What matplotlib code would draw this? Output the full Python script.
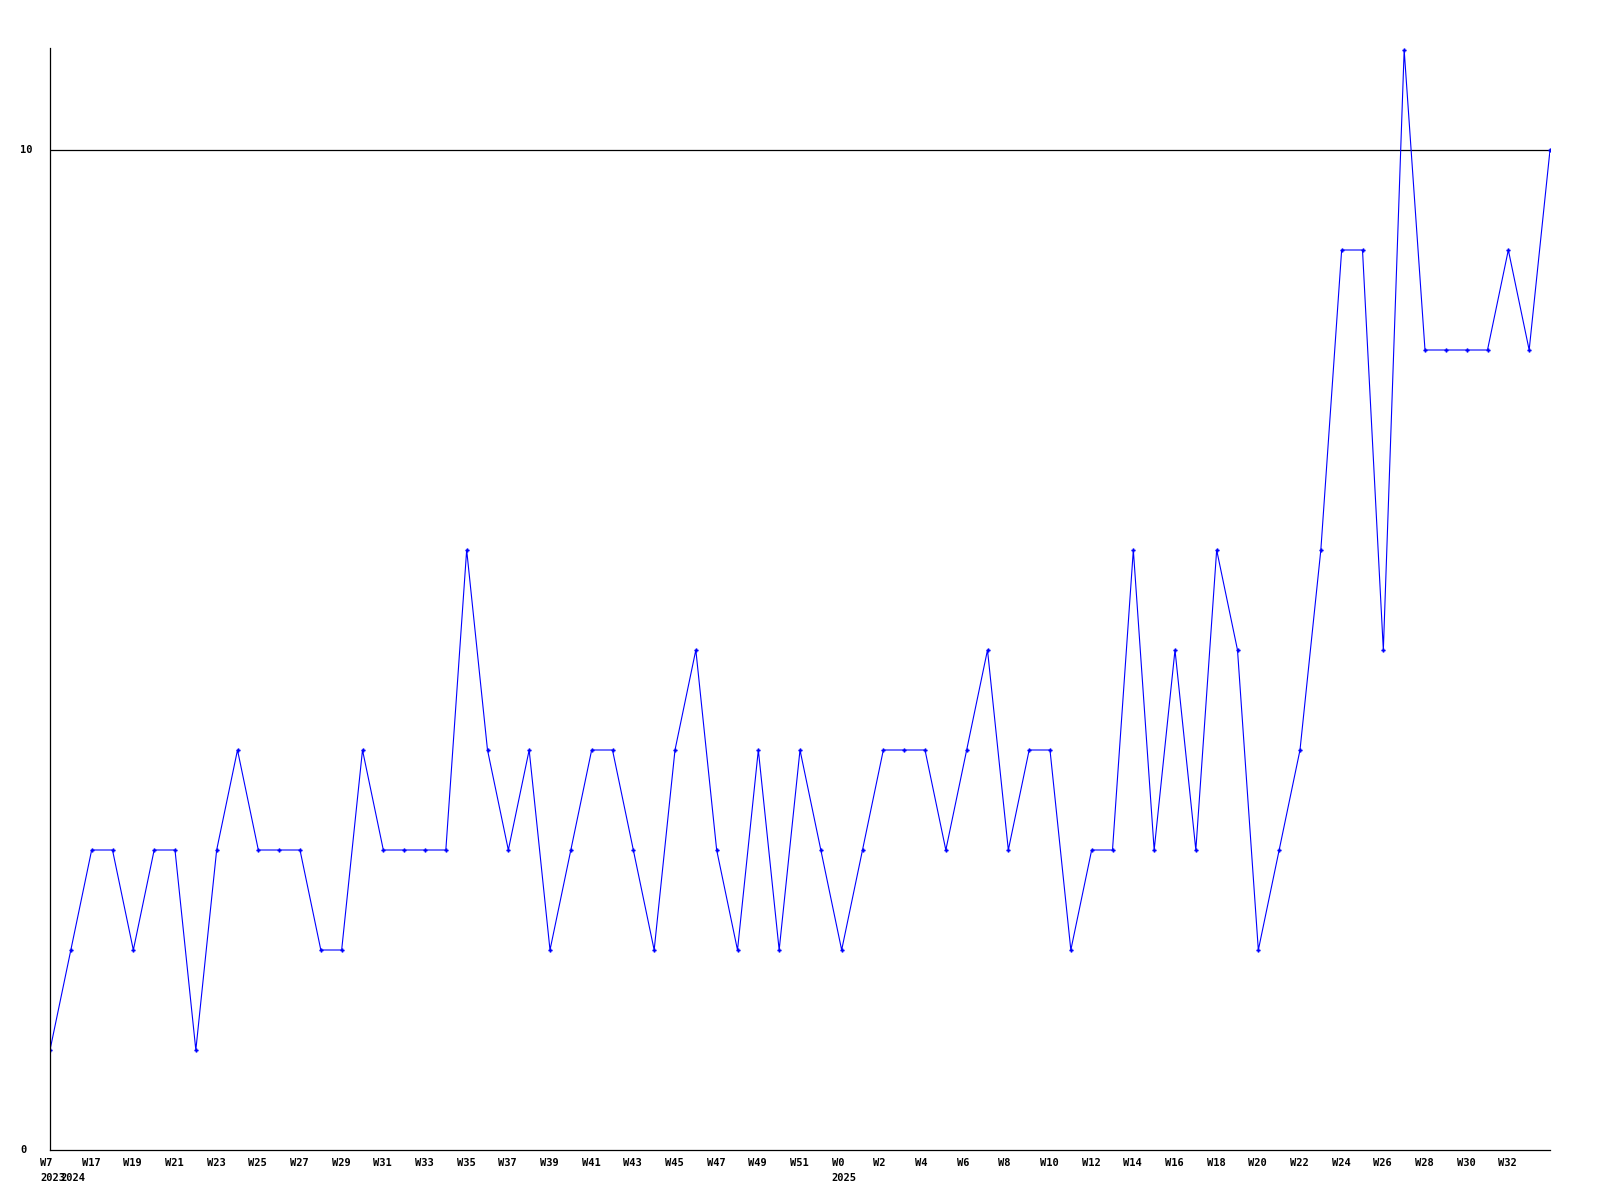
import matplotlib
matplotlib.use("Agg")
import matplotlib.pyplot as plt
import matplotlib.transforms as mtransforms

# weekly counts, one per week shown on the x axis
weeks = (["W7"] + ["W%d" % w for w in range(16, 53)] + ["W%d" % w for w in range(0, 35)])
values = [1, 2, 3, 3, 2, 3, 3, 1, 3, 4, 3, 3, 3, 2, 2, 4, 3, 3, 3, 3,
          6, 4, 3, 4, 2, 3, 4, 4, 3, 2, 4, 5, 3, 2, 4, 2, 4, 3, 2, 3,
          4, 4, 4, 3, 4, 5, 3, 4, 4, 2, 3, 3, 6, 3, 5, 3, 6, 5, 2, 3,
          4, 6, 9, 9, 5, 11, 8, 8, 8, 8, 9, 8, 10]
# year labels: (index of point, year)
year_marks = [(0, "2023"), (1, "2024"), (38, "2025")]
y_ticks = [0, 10]

W, H = 1600, 1200
fig = plt.figure(figsize=(16, 12), dpi=100)
ax = fig.add_axes([50 / W, 50 / H, 1500 / W, 1102 / H])

x = list(range(len(values)))
ax.plot(x, values, color="#0000ff", lw=0.8, marker="P", markersize=2.6,
        markerfacecolor="#0000ff", markeredgecolor="#0000ff", markeredgewidth=0.3)
ax.axhline(10, color="black", lw=0.9, zorder=1)

ax.set_xlim(0, len(values) - 1)
ax.set_ylim(0, 11.02)

for s in ["top", "right"]:
    ax.spines[s].set_visible(False)
for s in ["left", "bottom"]:
    ax.spines[s].set_linewidth(0.9)
    ax.spines[s].set_color("black")

font = dict(family="DejaVu Sans Mono", weight="bold", size=7.5)

ax.set_xticks([])
ax.set_yticks([])

# x labels: every other week, plus the first point
lab_idx = [0] + list(range(2, len(values) - 1, 2))
xlab_tr = mtransforms.offset_copy(ax.get_xaxis_transform(), fig=fig, x=-10, y=-8, units="dots")
year_tr = mtransforms.offset_copy(ax.get_xaxis_transform(), fig=fig, x=-10, y=-23, units="dots")
for i in lab_idx:
    ax.text(i, 0, weeks[i], transform=xlab_tr, ha="left", va="top", **font)
for i, yr in year_marks:
    ax.text(i, 0, yr, transform=year_tr, ha="left", va="top", **font)

ylab_tr = mtransforms.blended_transform_factory(fig.transFigure, ax.transData)
for v in y_ticks:
    ax.text(20 / W, v, str(v), transform=ylab_tr, ha="left", va="center", **font)

fig.savefig("out.png", dpi=100)
